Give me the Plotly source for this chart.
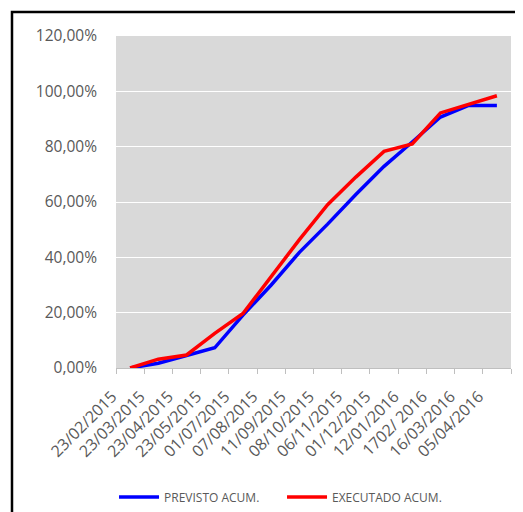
import plotly.graph_objects as go

datas = ["23/02/2015", "23/03/2015", "23/04/2015", "23/05/2015", "01/07/2015",
         "07/08/2015", "11/09/2015", "08/10/2015", "06/11/2015", "01/12/2015",
         "12/01/2016", "1702/ 2016", "16/03/2016", "05/04/2016"]
previsto = [0.0, 1.7, 4.5, 7.3, 19.1, 30.0, 41.8, 52.0, 62.7, 72.9, 81.7, 90.7, 94.9, 94.9]
executado = [0.0, 3.2, 4.7, 12.5, 19.7, 33.2, 46.4, 59.0, 69.0, 78.3, 81.0, 92.2, 95.2, 98.4]
y_ticks = [0, 20, 40, 60, 80, 100, 120]
y_labels = ["0,00%", "20,00%", "40,00%", "60,00%", "80,00%", "100,00%", "120,00%"]

font = "Open Sans"
fig = go.Figure()
fig.add_trace(go.Scatter(x=datas, y=previsto, mode="lines", name="PREVISTO ACUM.",
                         line=dict(color="#0000FF", width=3.5)))
fig.add_trace(go.Scatter(x=datas, y=executado, mode="lines", name="EXECUTADO ACUM.",
                         line=dict(color="#FF0000", width=3.5)))

# the page body adds an 8px margin, so the figure is 8px smaller than the window
fig.update_layout(
    width=515, height=504,
    margin=dict(l=108, r=12, t=28, b=144, autoexpand=False),
    paper_bgcolor="white", plot_bgcolor="#D9D9D9",
    font=dict(family=font, color="#595959"),
    showlegend=True,
    legend=dict(orientation="h", x=-0.005, xanchor="left", y=-0.3886, yanchor="middle",
                font=dict(size=12, color="#595959"), itemwidth=40, tracegroupgap=0,
                entrywidth=113, entrywidthmode="pixels", bgcolor="rgba(0,0,0,0)"),
    xaxis=dict(type="category", range=[-0.5, 13.5], tickangle=-45, tickson="boundaries",
               ticks="outside", ticklen=5, tickcolor="#BFBFBF", showline=True,
               linecolor="#BFBFBF", showgrid=False, ticklabelstandoff=12,
               ticklabelshift=-18,
               tickfont=dict(size=16, color="#595959"), fixedrange=True),
    yaxis=dict(range=[0, 120], tickvals=y_ticks, ticktext=y_labels, showgrid=True,
               gridcolor="white", gridwidth=1, zeroline=False, showline=False,
               ticks="", ticklabelstandoff=18, tickfont=dict(size=15.5, color="#595959")),
    shapes=[
        dict(type="rect", xref="paper", yref="paper", x0=-0.2633, x1=1.2, y0=-0.6, y1=1.0723,
             line=dict(color="black", width=2.5), fillcolor="rgba(0,0,0,0)", layer="below"),
    ],
)
fig.write_html("out.html")
